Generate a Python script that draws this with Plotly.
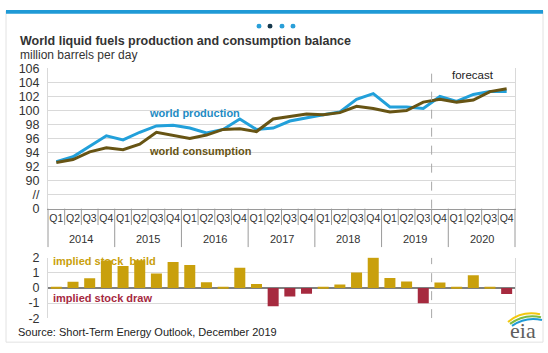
import plotly.graph_objects as go

# ---------------- data ----------------
years = ["2014", "2015", "2016", "2017", "2018", "2019", "2020"]
quarters = ["Q1", "Q2", "Q3", "Q4"]
quarter_labels = quarters * len(years)

production = [92.7, 93.4, 94.9, 96.4, 95.8, 96.9, 97.8, 97.9,
              97.5, 96.8, 97.3, 98.8, 97.3, 97.5, 98.5, 99.0,
              99.4, 99.8, 101.6, 102.4, 100.5, 100.5, 100.3, 102.0,
              101.3, 102.3, 102.7, 102.7]
consumption = [92.6, 93.0, 94.1, 94.7, 94.4, 95.2, 96.9, 96.4,
               96.0, 96.5, 97.3, 97.4, 97.0, 98.8, 99.2, 99.5,
               99.4, 99.7, 100.6, 100.3, 99.8, 100.0, 101.2, 101.6,
               101.2, 101.5, 102.7, 103.1]
stock_change = [0.05, 0.40, 0.64, 1.81, 1.45, 1.83, 0.96, 1.72,
                1.51, 0.38, 0.03, 1.34, 0.26, -1.21, -0.57, -0.38,
                0.04, 0.23, 1.02, 2.02, 0.66, 0.43, -1.02, 0.36,
                0.04, 0.83, 0.04, -0.40]
forecast_start = 23  # index of first forecast quarter (2019 Q4)

top_ticks = [86, 88, 90, 92, 94, 96, 98, 100, 102, 104, 106]
top_ticktext = ["0", "//", "90", "92", "94", "96", "98", "100", "102", "104", "106"]
bot_ticks = [-2, -1, 0, 1, 2]
bot_ticktext = ["-2", "-1", "0", "1", "2"]

# ---------------- styling ----------------
W, H = 548, 353
FONT = "Liberation Sans, Arial, sans-serif"
BLUE = "#22A0DA"
BLUE_TXT = "#1E8BC3"
BROWN = "#675414"
GOLD = "#C9A00C"
RED = "#A62A3F"
GRID = "#D9D9D9"
AX = "#9A9A9A"

def px(x):
    return x / W

def py(y):
    return 1 - y / H

xdom = [px(48), px(515)]
top_dom = [py(210), py(64)]
bot_dom = [py(324), py(261)]
n = len(quarter_labels)
x = list(range(n))

fig = go.Figure()
fig.add_trace(go.Scatter(x=x, y=production, mode="lines",
                         line=dict(color=BLUE, width=3), xaxis="x", yaxis="y",
                         hoverinfo="skip"))
fig.add_trace(go.Scatter(x=x, y=consumption, mode="lines",
                         line=dict(color=BROWN, width=3), xaxis="x", yaxis="y",
                         hoverinfo="skip"))
fig.add_trace(go.Bar(x=x, y=stock_change, width=0.66,
                     marker=dict(color=[GOLD if v >= 0 else RED for v in stock_change],
                                 line=dict(width=0)),
                     xaxis="x2", yaxis="y2", hoverinfo="skip"))

shapes = []
# outer frame and top bar
shapes.append(dict(type="rect", xref="paper", yref="paper",
                   x0=px(6), x1=px(543), y0=py(349), y1=py(4),
                   line=dict(color="#E2E2E2", width=1), fillcolor="rgba(0,0,0,0)", layer="below"))
shapes.append(dict(type="rect", xref="paper", yref="paper",
                   x0=px(6), x1=px(543), y0=py(7), y1=py(3),
                   line=dict(width=0), fillcolor="#1F9AD6"))
# carousel dots
for i, cx in enumerate([259, 270, 282, 293]):
    shapes.append(dict(type="circle", xref="paper", yref="paper",
                       x0=px(cx - 2.5), x1=px(cx + 2.5), y0=py(22.5), y1=py(17.5),
                       line=dict(width=0),
                       fillcolor="#17394D" if i == 1 else "#2A9FD8"))
# category separators below the top axis
for b in range(n + 1):
    xb = xdom[0] + b / n * (xdom[1] - xdom[0])
    ybot = py(250) if b % 4 == 0 else py(227)
    shapes.append(dict(type="line", xref="paper", yref="paper",
                       x0=xb, x1=xb, y0=top_dom[0], y1=ybot,
                       line=dict(color=AX, width=1)))
# forecast dashed line
for yr, (a, b) in (("y", (86, 106)), ("y2", (-2, 2))):
    shapes.append(dict(type="line", xref="x" if yr == "y" else "x2", yref=yr,
                       x0=forecast_start - 0.5, x1=forecast_start - 0.5, y0=a, y1=b,
                       line=dict(color="#A8A8A8", width=1, dash="dash")))
# eia logo swooshes
shapes.append(dict(type="path", xref="paper", yref="paper",
                   path=f"M {px(508)},{py(328)} Q {px(522)},{py(316)} {px(540)},{py(320)}",
                   line=dict(color="#F2C80F", width=2)))
shapes.append(dict(type="path", xref="paper", yref="paper",
                   path=f"M {px(510)},{py(330)} Q {px(524)},{py(319)} {px(541)},{py(323)}",
                   line=dict(color="#7DBB42", width=2)))
shapes.append(dict(type="path", xref="paper", yref="paper",
                   path=f"M {px(512)},{py(332)} Q {px(526)},{py(322)} {px(542)},{py(326)}",
                   line=dict(color="#1F9AD6", width=2)))

annotations = []
annotations.append(dict(text="<b>World liquid fuels production and consumption balance</b>",
                        xref="paper", yref="paper", x=px(18), y=py(35.5),
                        xanchor="left", yanchor="middle", showarrow=False,
                        font=dict(size=12.5, color="#333333", family=FONT)))
annotations.append(dict(text="million barrels per day",
                        xref="paper", yref="paper", x=px(18), y=py(49.5),
                        xanchor="left", yanchor="middle", showarrow=False,
                        font=dict(size=12, color="#333333", family=FONT)))
annotations.append(dict(text="Source: Short-Term Energy Outlook, December 2019",
                        xref="paper", yref="paper", x=px(16), y=py(338),
                        xanchor="left", yanchor="middle", showarrow=False,
                        font=dict(size=11, color="#222222", family=FONT)))
annotations.append(dict(text="eia", xref="paper", yref="paper", x=px(523), y=py(337),
                        xanchor="center", yanchor="middle", showarrow=False,
                        font=dict(size=22, color="#5E5E5E", family="Liberation Serif, serif")))
# year labels
for k, yv in enumerate(years):
    annotations.append(dict(text=yv, xref="x", yref="paper", x=4 * k + 1.5, y=py(242),
                            xanchor="center", yanchor="middle", showarrow=False,
                            font=dict(size=11, color="#333333", family=FONT)))
# series labels
annotations.append(dict(text="<b>world production</b>", xref="x", yref="y",
                        x=5.45, y=99.6, xanchor="left", yanchor="middle", showarrow=False,
                        font=dict(size=11, color=BLUE_TXT, family=FONT)))
annotations.append(dict(text="<b>world consumption</b>", xref="x", yref="y",
                        x=5.45, y=94.2, xanchor="left", yanchor="middle", showarrow=False,
                        font=dict(size=11, color=BROWN, family=FONT)))
annotations.append(dict(text="forecast", xref="x", yref="y",
                        x=25.0, y=105.0, xanchor="center", yanchor="middle", showarrow=False,
                        font=dict(size=11.5, color="#222222", family=FONT)))
annotations.append(dict(text="<b>implied stock  build</b>", xref="x2", yref="y2",
                        x=-0.3, y=1.8, xanchor="left", yanchor="middle", showarrow=False,
                        font=dict(size=11, color=GOLD, family=FONT)))
annotations.append(dict(text="<b>implied stock draw</b>", xref="x2", yref="y2",
                        x=-0.3, y=-0.67, xanchor="left", yanchor="middle", showarrow=False,
                        font=dict(size=11, color=RED, family=FONT)))

fig.update_layout(
    width=W, height=H,
    margin=dict(l=0, r=0, t=0, b=0),
    paper_bgcolor="white", plot_bgcolor="white",
    showlegend=False,
    font=dict(family=FONT, color="#333333"),
    xaxis=dict(domain=xdom, anchor="y", range=[-0.5, n - 0.5],
               tickmode="array", tickvals=x, ticktext=quarter_labels, tickangle=0,
               tickfont=dict(size=10.5, color="#333333"), ticks="",
               showgrid=False, zeroline=False, showline=True, linecolor=AX, linewidth=1,
               fixedrange=True),
    yaxis=dict(domain=top_dom, anchor="x", range=[86, 106],
               tickmode="array", tickvals=top_ticks, ticktext=top_ticktext,
               tickfont=dict(size=12.5, color="#333333"), ticks="", ticklabelstandoff=5,
               showgrid=True, gridcolor=GRID, gridwidth=1, zeroline=False,
               showline=True, mirror=True, linecolor=GRID, fixedrange=True),
    xaxis2=dict(domain=xdom, anchor="y2", range=[-0.5, n - 0.5],
                showticklabels=False, ticks="", showgrid=False, zeroline=False,
                showline=False, fixedrange=True),
    yaxis2=dict(domain=bot_dom, anchor="x2", range=[-2, 2],
                tickmode="array", tickvals=bot_ticks, ticktext=bot_ticktext,
                tickfont=dict(size=12.5, color="#333333"), ticks="", ticklabelstandoff=5,
                showgrid=True, gridcolor=GRID, gridwidth=1,
                zeroline=True, zerolinecolor="#7F7F7F", zerolinewidth=2,
                showline=True, mirror=True, linecolor=GRID, fixedrange=True),
    shapes=shapes,
    annotations=annotations,
    bargap=0.34,
)

fig.write_html("out.html")
